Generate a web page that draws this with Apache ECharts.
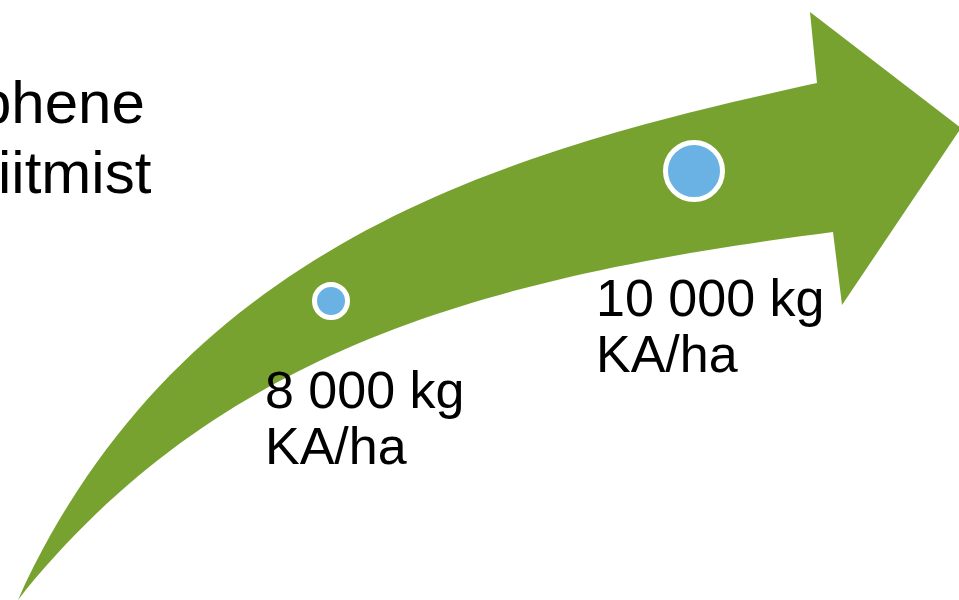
<!DOCTYPE html>
<html>
<head>
<meta charset="utf-8">
<style>
  html, body { margin: 0; padding: 0; background: #ffffff; }
  #chart { width: 959px; height: 600px; }
</style>
<script src="https://cdn.jsdelivr.net/npm/echarts@6/dist/echarts.min.js"></script>
</head>
<body>
<div id="chart"></div>
<script>
// ---- data (canvas-unit coordinates of a hidden 959x600 plane) ----
const titleLines = ['phene', 'iitmist'];
const milestoneX = [331, 694];
const milestoneY = [301, 171];
const milestoneYield = [8000, 10000];
const milestoneUnit = 'kg';
const milestoneUnitLine = 'KA/ha';
// arrow outline: cubic Bezier edges (start, control 1, control 2, end) and head polygon
const arrowUpperEdge = [[18,600],[183,237],[517,149],[817,83]];
const arrowLowerEdge = [[18,600],[218,350],[483,277],[833,232]];
const arrowHead = [[817,83],[810,12],[961,128],[842,305],[833,232]];

// ---- chart ----
const chart = echarts.init(document.getElementById('chart'), null, { renderer: 'canvas' });

function fmtThousands(v) {
  return String(v).replace(/\B(?=(\d{3})+(?!\d))/g, ' ');
}

const scatterData = milestoneX.map((x, i) => [x, milestoneY[i], milestoneYield[i]]);

const labelOffsets = [[-66, 65], [-98, 103]];
const symbolSizes = [33, 57];
const titleFont = '60px "Liberation Sans", Arial, sans-serif';

const option = {
  animation: false,
  backgroundColor: '#ffffff',
  grid: { left: 0, right: 0, top: 0, bottom: 0 },
  xAxis: { type: 'value', min: 0, max: 959, show: false },
  yAxis: { type: 'value', min: 0, max: 600, inverse: true, show: false },
  graphic: [
    {
      type: 'text', left: -22, top: 71, silent: true,
      style: { text: titleLines[0], font: titleFont, fill: '#000', lineHeight: 70 }
    },
    {
      type: 'text', left: -2, top: 141, silent: true,
      style: { text: titleLines[1], font: titleFont, fill: '#000', lineHeight: 70 }
    }
  ],
  series: [
    {
      type: 'custom',
      silent: true,
      z: 1,
      data: [0],
      renderItem: function (params, api) {
        const up = arrowUpperEdge.map(p => api.coord(p));
        const low = arrowLowerEdge.map(p => api.coord(p));
        const head = arrowHead.map(p => api.coord(p));
        const P = p => p[0] + ' ' + p[1];
        let d = 'M' + P(up[0]) + ' C' + P(up[1]) + ' ' + P(up[2]) + ' ' + P(up[3]);
        for (let i = 1; i < head.length; i++) d += ' L' + P(head[i]);
        d += ' C' + P(low[2]) + ' ' + P(low[1]) + ' ' + P(low[0]) + ' Z';
        return {
          type: 'path',
          shape: { pathData: d },
          style: { fill: '#78A22F', stroke: null }
        };
      }
    },
    {
      type: 'scatter',
      z: 5,
      silent: true,
      symbol: 'circle',
      data: scatterData.map((d, i) => ({
        value: d,
        symbolSize: symbolSizes[i],
        label: {
          show: true,
          position: 'inside',
          offset: labelOffsets[i],
          align: 'left',
          verticalAlign: 'top'
        }
      })),
      itemStyle: { color: '#6AB2E4', borderColor: '#ffffff', borderWidth: 5, opacity: 1 },
      label: {
        show: true,
        formatter: p => fmtThousands(p.value[2]) + ' ' + milestoneUnit + '\n' + milestoneUnitLine,
        fontSize: 52,
        lineHeight: 56,
        fontFamily: '"Liberation Sans", Arial, sans-serif',
        color: '#000000'
      }
    }
  ]
};
chart.setOption(option);
</script>
</body>
</html>
